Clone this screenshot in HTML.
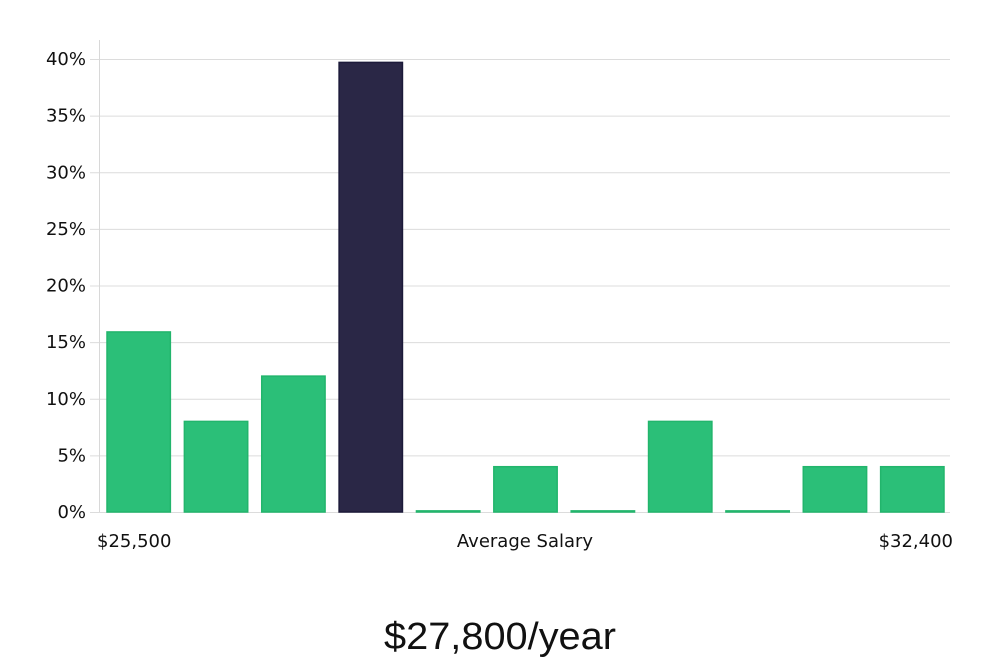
<!DOCTYPE html>
<html><head><meta charset="utf-8"><style>
body{margin:0;background:#fff;width:1000px;height:660px;overflow:hidden}
text{font-family:"DejaVu Sans","Liberation Sans",sans-serif}
</style></head><body>
<svg id="chart" width="1000" height="660" xmlns="http://www.w3.org/2000/svg">
<g id="grid"></g>
<g id="yt"></g>
<line x1="99.5" y1="40" x2="99.5" y2="512" stroke="#d8d8d8"/>
<g id="bars"></g>
<text x="97" y="547" font-size="18" fill="#111">$25,500</text>
<text x="525" y="547" font-size="18" fill="#111" text-anchor="middle">Average Salary</text>
<text x="953" y="547" font-size="18" fill="#111" text-anchor="end">$32,400</text>
<text x="500" y="649" font-size="38" fill="#111" text-anchor="middle" style="font-family:'Liberation Sans Narrow','Liberation Sans',sans-serif" textLength="232" lengthAdjust="spacingAndGlyphs">$27,800/year</text>
</svg>
<script>
const values=[15.9,8,12,39.7,0.1,4,0.1,8,0.1,4,4];
const highlight=[false,false,false,true,false,false,false,false,false,false,false];
const yTicks=[0,5,10,15,20,25,30,35,40];
const x0=99,x1=950,yBase=512,yTop=59,yMax=40;
const y=v=>yBase-(v/yMax)*(yBase-yTop);
const step=(x1-x0)/values.length;
const ns="http://www.w3.org/2000/svg";
const grid=document.getElementById('grid'),yt=document.getElementById('yt'),bars=document.getElementById('bars');
yTicks.forEach(t=>{
 const l=document.createElementNS(ns,'line');
 
 
 l.setAttribute('x1',90);l.setAttribute('x2',x1);
 l.setAttribute('y1',y(t)+0.5);l.setAttribute('y2',y(t)+0.5);
 l.setAttribute('stroke','#dcdcdc');grid.appendChild(l);
 const tx=document.createElementNS(ns,'text');
 
 
 tx.setAttribute('x',86);tx.setAttribute('y',y(t)+6);
 tx.setAttribute('text-anchor','end');tx.setAttribute('font-size','18');tx.setAttribute('fill','#111');
 tx.textContent=t+'%';yt.appendChild(tx);
});
values.forEach((v,i)=>{
 const r=document.createElementNS(ns,'rect');
 
 
 const bx=x0+step*i+8;
 r.setAttribute('x',bx);r.setAttribute('width',step-14);
 const top=y(v);
 r.setAttribute('y',top);r.setAttribute('height',Math.max(1,yBase-top));
 r.setAttribute('fill',highlight[i]?'#2a2746':'#2bbf78');
 r.setAttribute('stroke',highlight[i]?'#1c1a3a':'#22b56c');
 r.setAttribute('stroke-width','1.5');
 bars.appendChild(r);
});
</script>
</body></html>
